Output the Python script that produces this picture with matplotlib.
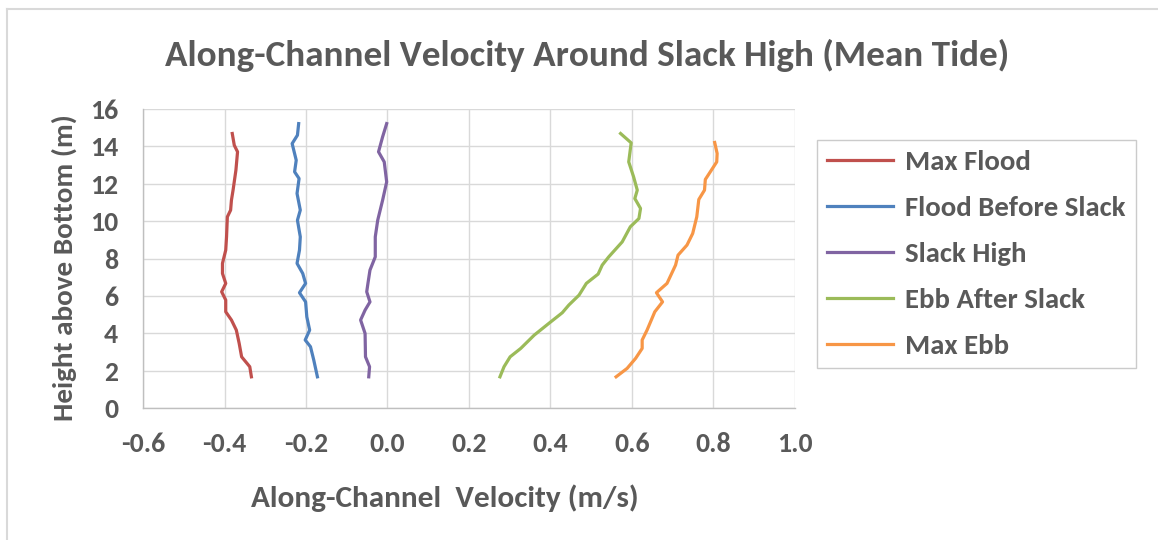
import matplotlib
matplotlib.use("Agg")
import matplotlib.pyplot as plt
from matplotlib.lines import Line2D

# velocity (m/s) vs height above bottom (m)
flood_max_v = [-0.381, -0.376, -0.368, -0.372, -0.379, -0.383, -0.385, -0.393, -0.395, -0.397,
               -0.405, -0.405, -0.397, -0.407, -0.397, -0.397, -0.383, -0.371, -0.364, -0.358,
               -0.338, -0.334]
flood_max_h = [14.69, 14.06, 13.71, 12.73, 11.66, 11.12, 10.59, 10.23, 9.16, 8.45,
               7.74, 7.20, 6.67, 6.22, 5.78, 5.15, 4.71, 4.17, 3.46, 2.74,
               2.21, 1.67]

flood_before_v = [-0.218, -0.221, -0.234, -0.224, -0.228, -0.217, -0.222, -0.214, -0.221, -0.214,
                  -0.216, -0.222, -0.208, -0.201, -0.216, -0.201, -0.198, -0.191, -0.202, -0.189,
                  -0.181, -0.172]
flood_before_h = [15.22, 14.60, 14.15, 13.26, 12.64, 12.28, 11.48, 10.59, 10.05, 9.16,
                  8.45, 7.74, 7.20, 6.67, 6.17, 5.68, 4.88, 4.17, 3.64, 3.28,
                  2.57, 1.67]

slack_v = [-0.002, -0.012, -0.022, -0.008, -0.002, -0.012, -0.024, -0.030, -0.030, -0.043,
           -0.048, -0.051, -0.043, -0.055, -0.066, -0.055, -0.054, -0.044, -0.046]
slack_h = [15.22, 14.51, 13.71, 13.17, 12.10, 11.12, 10.05, 9.16, 8.09, 7.38,
           6.67, 6.22, 5.68, 5.24, 4.71, 3.99, 2.74, 2.21, 1.67]

ebb_after_v = [0.572, 0.598, 0.592, 0.604, 0.613, 0.607, 0.621, 0.617, 0.596, 0.576,
               0.543, 0.527, 0.517, 0.488, 0.470, 0.445, 0.429, 0.396, 0.360, 0.327,
               0.301, 0.286, 0.276]
ebb_after_h = [14.69, 14.19, 13.17, 12.37, 11.66, 11.21, 10.68, 10.14, 9.70, 8.89,
               8.09, 7.65, 7.17, 6.67, 6.04, 5.51, 5.10, 4.53, 3.90, 3.19,
               2.74, 2.21, 1.67]

ebb_max_v = [0.803, 0.809, 0.808, 0.780, 0.778, 0.764, 0.759, 0.749, 0.735, 0.713,
             0.707, 0.686, 0.660, 0.675, 0.656, 0.637, 0.625, 0.625, 0.609, 0.588,
             0.561]
ebb_max_h = [14.21, 13.62, 13.17, 12.23, 11.66, 11.16, 10.23, 9.34, 8.72, 8.18,
             7.65, 6.67, 6.17, 5.68, 5.15, 4.17, 3.64, 3.19, 2.66, 2.12,
             1.67]

series = [
    ("Max Flood", flood_max_v, flood_max_h, "#C0504D"),
    ("Flood Before Slack", flood_before_v, flood_before_h, "#4F81BD"),
    ("Slack High", slack_v, slack_h, "#8064A2"),
    ("Ebb After Slack", ebb_after_v, ebb_after_h, "#9BBB59"),
    ("Max Ebb", ebb_max_v, ebb_max_h, "#F79646"),
]

x_ticks = [-0.6, -0.4, -0.2, 0.0, 0.2, 0.4, 0.6, 0.8, 1.0]
y_ticks = [0, 2, 4, 6, 8, 10, 12, 14, 16]

plt.rcParams["font.family"] = ["Carlito", "DejaVu Sans"]
plt.rcParams["font.weight"] = "bold"
txt = "#595959"

fig = plt.figure(figsize=(11.58, 5.40), dpi=100)
ax = fig.add_axes([0.1235, 0.2444, 0.563, 0.5537])

for name, v, h, c in series:
    ax.plot(v, h, "-", color=c, linewidth=2.3, label=name, solid_joinstyle="round")

ax.set_xlim(-0.6, 1.0)
ax.set_ylim(0, 16)
ax.set_xticks(x_ticks)
ax.set_xticklabels([f"{t:.1f}" for t in x_ticks])
ax.set_yticks(y_ticks)
ax.grid(True, color="#d9d9d9", linewidth=1.0)
ax.set_axisbelow(True)
for s in ["top", "right"]:
    ax.spines[s].set_visible(False)
for s in ["left", "bottom"]:
    ax.spines[s].set_color("#bfbfbf")
    ax.spines[s].set_linewidth(1.0)
ax.tick_params(length=0, labelsize=20, labelcolor=txt)
ax.tick_params(axis="x", pad=17)
ax.tick_params(axis="y", pad=18)

ax.set_xlabel("Along-Channel  Velocity (m/s)", fontsize=22.5, fontweight="bold", color=txt)
ax.xaxis.label.set_va("center")
ax.xaxis.set_label_coords(0.4635, -0.303)
ax.set_ylabel("Height above Bottom (m)", fontsize=21, fontweight="bold", color=txt)
ax.yaxis.label.set_va("center")
ax.yaxis.set_label_coords(-0.121, 0.47)
fig.text(0.507, 0.897, "Along-Channel Velocity Around Slack High (Mean Tide)",
         ha="center", va="center", fontsize=26.7, color=txt)

leg = ax.legend(loc="upper left", bbox_to_anchor=(0.7055, 0.7403), bbox_transform=fig.transFigure,
                frameon=True, fancybox=False, fontsize=20.7, handlelength=2.3, handletextpad=0.42,
                labelspacing=0.76, borderpad=0.35, borderaxespad=0)
leg.get_frame().set_edgecolor("#bfbfbf")
leg.get_frame().set_linewidth(1.0)
for t in leg.get_texts():
    t.set_color(txt)

# chart border visible at top and left of the screenshot
fig.add_artist(Line2D([0.006, 1.0], [0.983, 0.983], transform=fig.transFigure, color="#d9d9d9", linewidth=1.5))
fig.add_artist(Line2D([0.006, 0.006], [0.0, 0.983], transform=fig.transFigure, color="#d9d9d9", linewidth=1.5))

fig.savefig("out.png", dpi=100)
